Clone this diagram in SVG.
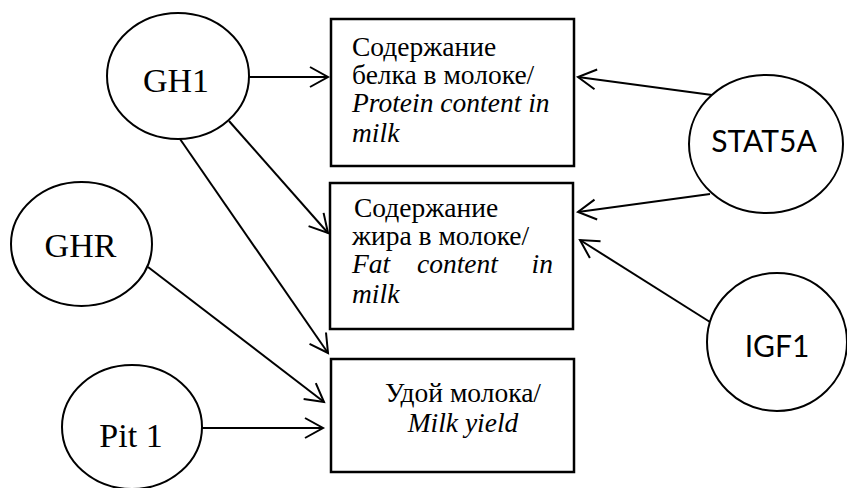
<svg xmlns="http://www.w3.org/2000/svg" width="847" height="488" viewBox="0 0 847 488">
<style>
.box{fill:#fff;stroke:#000;stroke-width:2.5}
.node{fill:#fff;stroke:#000;stroke-width:2}
.edge{fill:none;stroke:#000;stroke-width:2;marker-end:url(#ah)}
.serif{font-family:"Liberation Serif","Times New Roman",serif;fill:#000}
.t{font-size:27.5px}
.it{font-style:italic}
.lbl{font-size:34px}
.sans{font-family:Lato,"Open Sans","Liberation Sans",sans-serif;font-size:30px;fill:#000}
</style>
<defs>
<marker id="ah" markerUnits="userSpaceOnUse" markerWidth="24" markerHeight="24" refX="20" refY="12" orient="auto" viewBox="0 0 24 24">
<path d="M2,2 L20,12 L2,22" fill="none" stroke="#000" stroke-width="2"/>
</marker>
</defs>
<g id="connectors">
<line class="edge" x1="249" y1="77" x2="328" y2="77"/>
<line class="edge" x1="229" y1="121" x2="328" y2="233"/>
<line class="edge" x1="180" y1="139" x2="328" y2="353"/>
<line class="edge" x1="148" y1="267" x2="324" y2="402"/>
<line class="edge" x1="202" y1="428" x2="323" y2="428"/>
<line class="edge" x1="712" y1="95" x2="578" y2="77"/>
<line class="edge" x1="710" y1="194" x2="578" y2="212"/>
<line class="edge" x1="710" y1="322" x2="580" y2="240"/>
</g>
<g id="box-protein">
<rect class="box" x="331" y="19" width="243" height="147"/>
<text class="serif t" x="352" y="56">Содержание</text>
<text class="serif t" x="352" y="84">белка в молоке/</text>
<text class="serif t it" x="352" y="112">Protein content in</text>
<text class="serif t it" x="352" y="142">milk</text>
</g>
<g id="box-fat">
<rect class="box" x="330" y="183" width="243" height="146"/>
<text class="serif t" x="354" y="217">Содержание</text>
<text class="serif t" x="352" y="245">жира в молоке/</text>
<text class="serif t it" x="352" y="273">Fat</text>
<text class="serif t it" x="417" y="273">content</text>
<text class="serif t it" x="553" y="273" text-anchor="end">in</text>
<text class="serif t it" x="352" y="303">milk</text>
</g>
<g id="box-yield">
<rect class="box" x="331" y="359" width="243" height="113"/>
<text class="serif t" x="463" y="402" text-anchor="middle">Удой молока/</text>
<text class="serif t it" x="463" y="432" text-anchor="middle">Milk yield</text>
</g>
<g id="GH1">
<ellipse class="node" cx="178" cy="76" rx="71" ry="63"/>
<text class="serif lbl" x="176" y="92" text-anchor="middle">GH1</text>
</g>
<g id="GHR">
<ellipse class="node" cx="81.5" cy="244" rx="70.5" ry="62"/>
<text class="serif lbl" x="80.5" y="257" text-anchor="middle">GHR</text>
</g>
<g id="Pit1">
<ellipse class="node" cx="132" cy="427" rx="70" ry="62"/>
<text class="serif lbl" x="131" y="447" text-anchor="middle">Pit 1</text>
</g>
<g id="STAT5A">
<ellipse class="node" cx="766" cy="144" rx="77" ry="69"/>
<text class="sans" x="764" y="152" text-anchor="middle">STAT5A</text>
</g>
<g id="IGF1">
<ellipse class="node" cx="777" cy="342" rx="70" ry="69"/>
<text class="sans" x="777" y="357" text-anchor="middle">IGF1</text>
</g>
</svg>
